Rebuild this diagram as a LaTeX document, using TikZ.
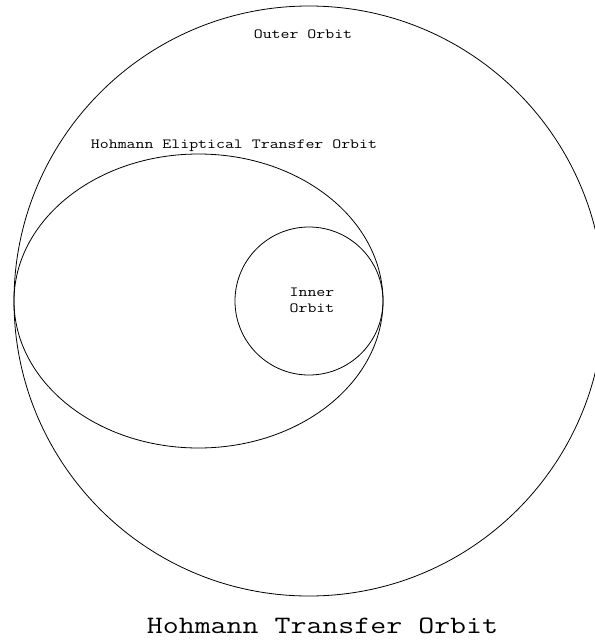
\documentclass[tikz,border=0pt]{standalone}
\usepackage{graphicx}
\begin{document}
\begin{tikzpicture}[x=1pt,y=-1pt,
  orbit/.style={draw=black,line width=0.8pt},
  lbl/.style={font=\fontsize{14}{15}\selectfont\ttfamily,inner sep=0pt,anchor=base},
  ttl/.style={font=\fontsize{25}{27}\selectfont\ttfamily,inner sep=0pt,anchor=base}]
\useasboundingbox (0,0) rectangle (595,641);
\clip (0,0) rectangle (595,641);
\fill[white] (0,0) rectangle (595,641);
\draw[orbit] (309,301) circle[radius=295];
\draw[orbit] (198.5,301) ellipse[x radius=184.5,y radius=147];
\draw[orbit] (309,301) circle[radius=74];
\node[lbl] (outer) at (303,38) {\scalebox{1.24}[1]{Outer Orbit}};
\node[lbl] (transfer) at (234,148) {\scalebox{1.24}[1]{Hohmann Eliptical Transfer Orbit}};
\node[lbl] (inner1) at (312,296) {\scalebox{1.24}[1]{Inner}};
\node[lbl] (inner2) at (312,312) {\scalebox{1.24}[1]{Orbit}};
\node[ttl] (title) at (322.5,633) {\scalebox{1.24}[1]{Hohmann Transfer Orbit}};
\end{tikzpicture}
\end{document}
